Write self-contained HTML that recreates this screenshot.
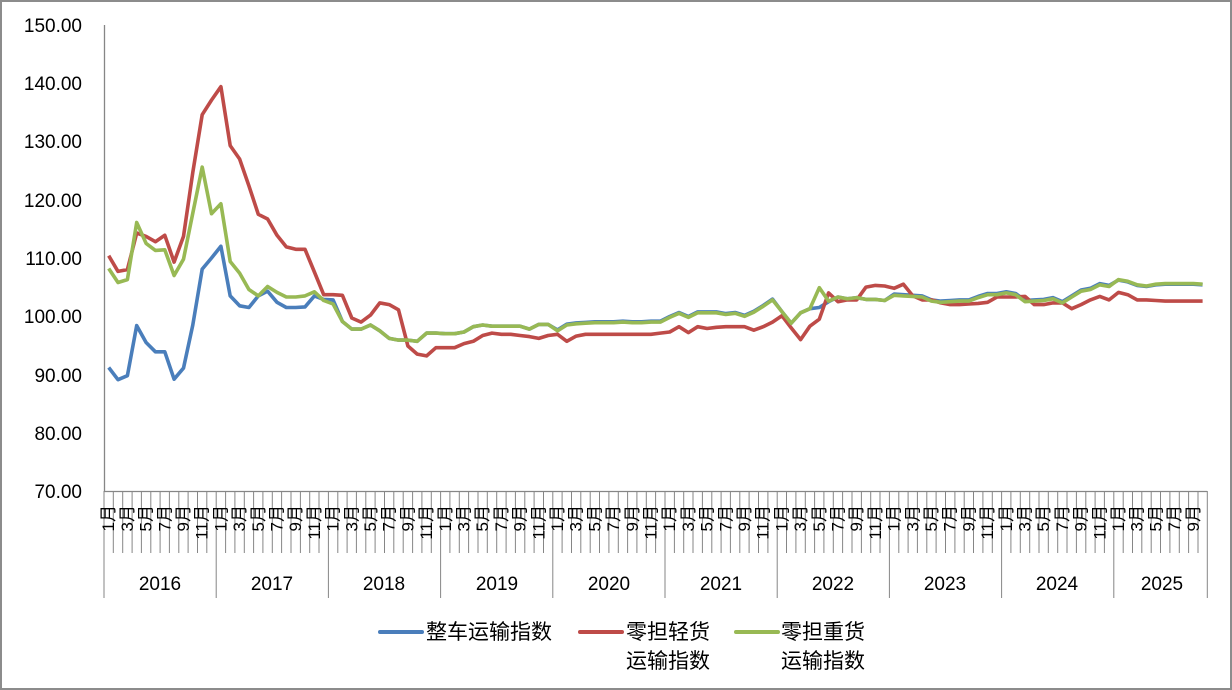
<!DOCTYPE html>
<html><head><meta charset="utf-8"><style>
html,body{margin:0;padding:0;background:#fff}
svg{display:block}
text{font-family:"Liberation Sans","Noto Sans CJK SC",sans-serif;fill:#000}
</style></head><body>
<svg id="c" width="1232" height="690" viewBox="0 0 1232 690">
<rect x="1" y="1" width="1230" height="688" fill="#fff" stroke="#8c8c8c" stroke-width="2"/>
<g font-size="19" text-anchor="end">
<text x="82" y="32">150.00</text>
<text x="82" y="90">140.00</text>
<text x="82" y="148">130.00</text>
<text x="82" y="207">120.00</text>
<text x="82" y="265">110.00</text>
<text x="82" y="323">100.00</text>
<text x="82" y="382">90.00</text>
<text x="82" y="440">80.00</text>
<text x="82" y="498">70.00</text>
</g>
<line x1="104.5" y1="25" x2="104.5" y2="491" stroke="#868686" stroke-width="1.3"/>
<g id="ticks" stroke="#868686" stroke-width="1"></g>
<line x1="104" y1="491.5" x2="1207" y2="491.5" stroke="#868686" stroke-width="1.3"/>
<g font-size="17" text-anchor="end" dominant-baseline="central">
<g transform="translate(108.7,0)"><text transform="translate(0,505) rotate(-90)">1月</text><text transform="translate(18.7,505) rotate(-90)">3月</text><text transform="translate(37.4,505) rotate(-90)">5月</text><text transform="translate(56.1,505) rotate(-90)">7月</text><text transform="translate(74.8,505) rotate(-90)">9月</text><text transform="translate(93.5,505) rotate(-90)">11月</text></g>
<g transform="translate(220.9,0)"><text transform="translate(0,505) rotate(-90)">1月</text><text transform="translate(18.7,505) rotate(-90)">3月</text><text transform="translate(37.4,505) rotate(-90)">5月</text><text transform="translate(56.1,505) rotate(-90)">7月</text><text transform="translate(74.8,505) rotate(-90)">9月</text><text transform="translate(93.5,505) rotate(-90)">11月</text></g>
<g transform="translate(333.1,0)"><text transform="translate(0,505) rotate(-90)">1月</text><text transform="translate(18.7,505) rotate(-90)">3月</text><text transform="translate(37.4,505) rotate(-90)">5月</text><text transform="translate(56.1,505) rotate(-90)">7月</text><text transform="translate(74.8,505) rotate(-90)">9月</text><text transform="translate(93.5,505) rotate(-90)">11月</text></g>
<g transform="translate(445.3,0)"><text transform="translate(0,505) rotate(-90)">1月</text><text transform="translate(18.7,505) rotate(-90)">3月</text><text transform="translate(37.4,505) rotate(-90)">5月</text><text transform="translate(56.1,505) rotate(-90)">7月</text><text transform="translate(74.8,505) rotate(-90)">9月</text><text transform="translate(93.5,505) rotate(-90)">11月</text></g>
<g transform="translate(557.5,0)"><text transform="translate(0,505) rotate(-90)">1月</text><text transform="translate(18.7,505) rotate(-90)">3月</text><text transform="translate(37.4,505) rotate(-90)">5月</text><text transform="translate(56.1,505) rotate(-90)">7月</text><text transform="translate(74.8,505) rotate(-90)">9月</text><text transform="translate(93.5,505) rotate(-90)">11月</text></g>
<g transform="translate(669.7,0)"><text transform="translate(0,505) rotate(-90)">1月</text><text transform="translate(18.7,505) rotate(-90)">3月</text><text transform="translate(37.4,505) rotate(-90)">5月</text><text transform="translate(56.1,505) rotate(-90)">7月</text><text transform="translate(74.8,505) rotate(-90)">9月</text><text transform="translate(93.5,505) rotate(-90)">11月</text></g>
<g transform="translate(781.9,0)"><text transform="translate(0,505) rotate(-90)">1月</text><text transform="translate(18.7,505) rotate(-90)">3月</text><text transform="translate(37.4,505) rotate(-90)">5月</text><text transform="translate(56.1,505) rotate(-90)">7月</text><text transform="translate(74.8,505) rotate(-90)">9月</text><text transform="translate(93.5,505) rotate(-90)">11月</text></g>
<g transform="translate(894.1,0)"><text transform="translate(0,505) rotate(-90)">1月</text><text transform="translate(18.7,505) rotate(-90)">3月</text><text transform="translate(37.4,505) rotate(-90)">5月</text><text transform="translate(56.1,505) rotate(-90)">7月</text><text transform="translate(74.8,505) rotate(-90)">9月</text><text transform="translate(93.5,505) rotate(-90)">11月</text></g>
<g transform="translate(1006.3,0)"><text transform="translate(0,505) rotate(-90)">1月</text><text transform="translate(18.7,505) rotate(-90)">3月</text><text transform="translate(37.4,505) rotate(-90)">5月</text><text transform="translate(56.1,505) rotate(-90)">7月</text><text transform="translate(74.8,505) rotate(-90)">9月</text><text transform="translate(93.5,505) rotate(-90)">11月</text></g>
<g transform="translate(1118.5,0)"><text transform="translate(0,505) rotate(-90)">1月</text><text transform="translate(18.7,505) rotate(-90)">3月</text><text transform="translate(37.4,505) rotate(-90)">5月</text><text transform="translate(56.1,505) rotate(-90)">7月</text><text transform="translate(74.8,505) rotate(-90)">9月</text></g>
</g>
<g font-size="19" text-anchor="middle">
<text x="160" y="590">2016</text><text x="272" y="590">2017</text><text x="384" y="590">2018</text><text x="497" y="590">2019</text><text x="609" y="590">2020</text><text x="721" y="590">2021</text><text x="833" y="590">2022</text><text x="945" y="590">2023</text><text x="1057" y="590">2024</text><text x="1162" y="590">2025</text>
</g>
<g id="series" fill="none" stroke-width="3.6" stroke-linejoin="round"></g>
<g font-size="21">
<line x1="380" y1="632" x2="422" y2="632" stroke="#4a7ebb" stroke-width="4" stroke-linecap="round"/>
<text x="426" y="639">整车运输指数</text>
<line x1="580" y1="632" x2="622" y2="632" stroke="#be4b48" stroke-width="4" stroke-linecap="round"/>
<text x="626" y="639">零担轻货</text><text x="626" y="668">运输指数</text>
<line x1="736" y1="632" x2="778" y2="632" stroke="#98b954" stroke-width="4" stroke-linecap="round"/>
<text x="781" y="639">零担重货</text><text x="781" y="668">运输指数</text>
</g>
</svg>
<script>
var X=function(i){return 104+(i+0.5)*9.35},Y=function(v){return 25+(150-v)*5.825};
var t=document.getElementById('ticks'),s='';
for(var i=0;i<=118;i++){var x=104+i*9.35;var yr=(i%12==0)||i==118;s+='<line x1="'+x.toFixed(1)+'" y1="491" x2="'+x.toFixed(1)+'" y2="'+(yr?598:553)+'"/>';}
t.innerHTML=s;
var red=[110.4,107.7,108.0,114.3,113.7,112.8,113.9,109.3,113.7,124.7,134.6,137.1,139.4,129.3,127.0,122.4,117.5,116.7,113.9,111.9,111.5,111.5,107.6,103.7,103.7,103.6,99.7,99.0,100.2,102.3,102.0,101.1,94.9,93.5,93.2,94.6,94.6,94.6,95.3,95.7,96.7,97.1,96.9,96.9,96.7,96.5,96.2,96.7,96.9,95.7,96.6,96.9,96.9,96.9,96.9,96.9,96.9,96.9,96.9,97.1,97.3,98.2,97.2,98.2,97.9,98.1,98.2,98.2,98.2,97.6,98.2,99.0,100.1,98.0,96.0,98.3,99.5,104.0,102.5,102.8,102.8,105.0,105.3,105.2,104.8,105.5,103.5,102.8,102.8,102.3,102.0,102.0,102.1,102.2,102.4,103.3,103.3,103.3,103.4,102.0,102.0,102.3,102.3,101.3,102.0,102.8,103.4,102.8,104.1,103.7,102.8,102.8,102.7,102.6,102.6,102.6,102.6,102.6,102.6,102.6];
var grn=[108.2,105.8,106.3,116.1,112.5,111.3,111.4,107.0,109.8,117.7,125.6,117.6,119.3,109.4,107.4,104.6,103.5,105.1,104.1,103.3,103.3,103.5,104.2,102.7,102.1,99.1,97.8,97.8,98.5,97.5,96.2,95.9,95.9,95.7,97.1,97.1,97.0,97.0,97.3,98.2,98.5,98.3,98.3,98.3,98.3,97.8,98.6,98.6,97.5,98.5,98.7,98.8,98.9,98.9,98.9,99.0,98.9,98.9,99.0,99.0,99.8,100.5,99.8,100.6,100.6,100.6,100.3,100.5,100.0,100.7,101.7,102.8,100.8,98.8,100.6,101.3,104.9,102.6,103.3,103.0,103.2,102.9,102.9,102.7,103.6,103.5,103.4,103.3,102.6,102.4,102.5,102.6,102.6,103.2,103.7,103.7,104.0,103.7,102.5,102.6,102.7,103.0,102.3,103.3,104.3,104.6,105.4,105.1,106.3,106.0,105.4,105.2,105.5,105.6,105.6,105.6,105.6,105.5];
red=red.slice(0,118);grn=grn.slice(0,118);
var blu=[91.2,89.1,89.8,98.4,95.5,93.9,93.9,89.2,91.1,98.5,108.1,110.0,112.0,103.5,101.8,101.5,103.5,104.3,102.4,101.5,101.5,101.6,103.5,102.9,102.8,99.1];
for(var i=26;i<grn.length;i++){var g=grn[i];var b=g;if(i>=48&&i<72)b=g+0.15;if(i==76)b=101.5;if(i==77)b=102.5;if(i>=84&&i<108)b=g+0.2;if(i>=108)b=g-0.1;blu.push(b);}
function pl(a,c){var p=a.map(function(v,i){return X(i).toFixed(1)+','+Y(v).toFixed(1)}).join(' ');return '<polyline stroke="'+c+'" points="'+p+'"/>';}
document.getElementById('series').innerHTML=pl(blu,'#4a7ebb')+pl(red,'#be4b48')+pl(grn,'#98b954');
</script>
</body></html>
